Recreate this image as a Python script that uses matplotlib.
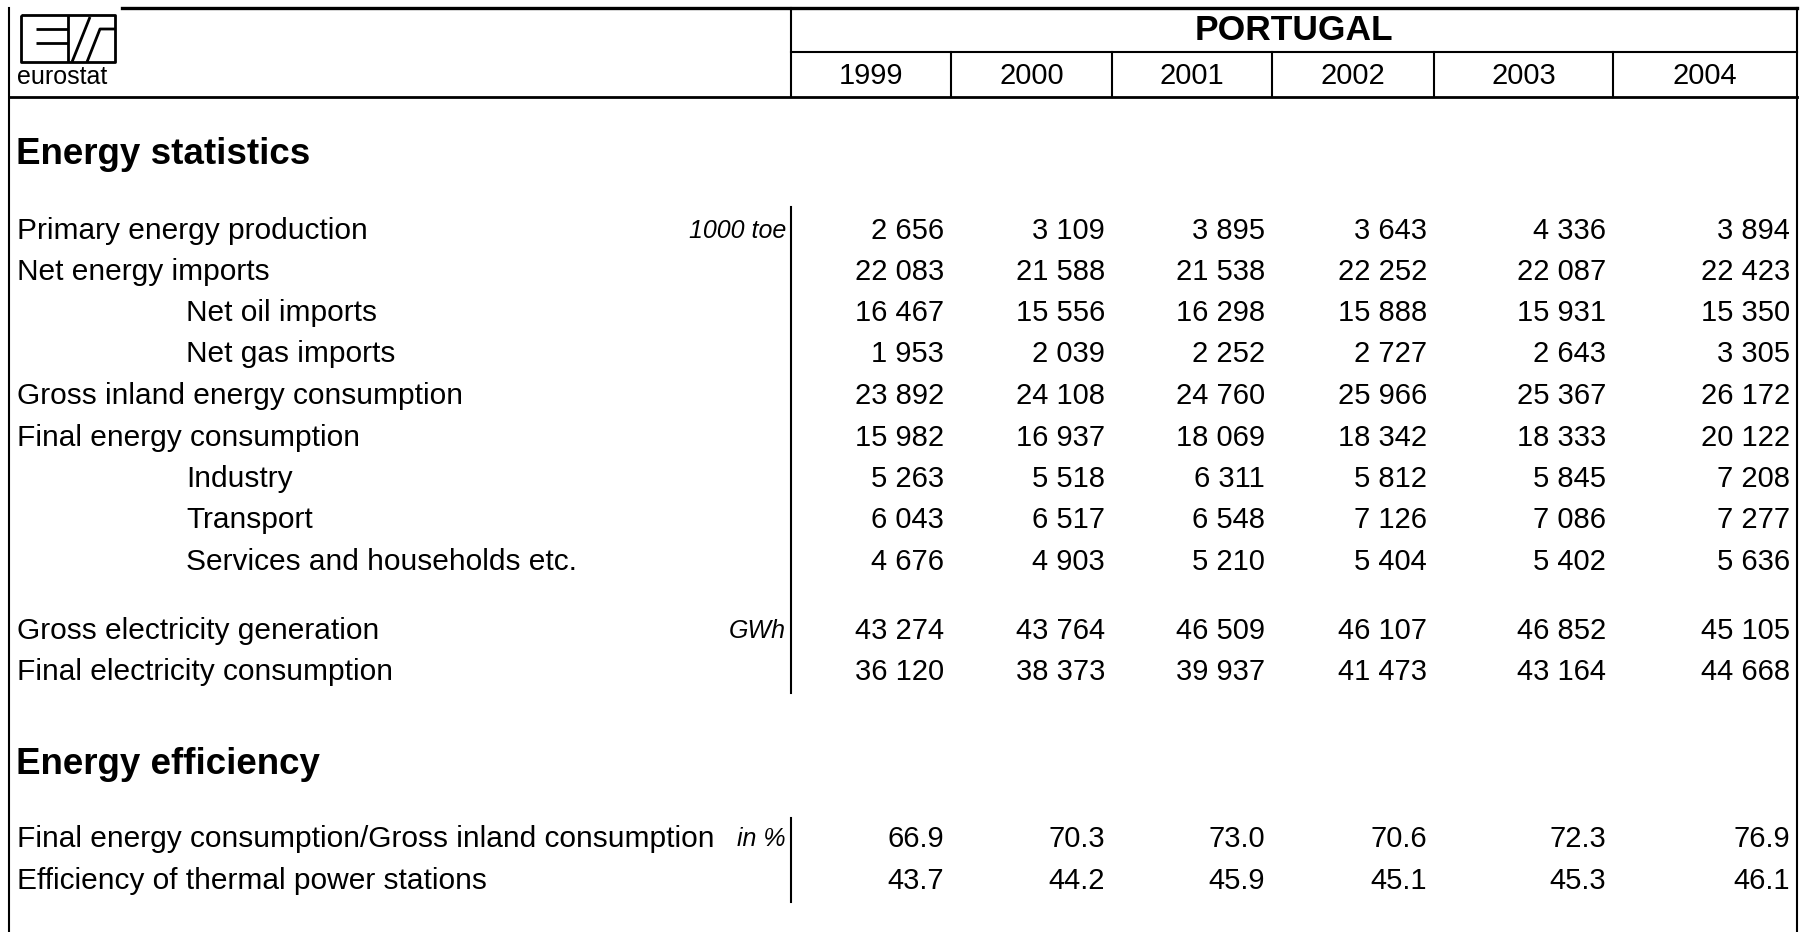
import matplotlib
matplotlib.use("Agg")
import matplotlib.pyplot as plt

plt.rcParams["font.family"] = ["Liberation Sans", "DejaVu Sans"]

# %% data
country = "PORTUGAL"
years = ["1999", "2000", "2001", "2002", "2003", "2004"]

stat_labels = ["Primary energy production", "Net energy imports", "Net oil imports",
               "Net gas imports", "Gross inland energy consumption",
               "Final energy consumption", "Industry", "Transport",
               "Services and households etc."]
stat_indent = [0, 0, 1, 1, 0, 0, 1, 1, 1]
stat_units = ["1000 toe", "", "", "", "", "", "", "", ""]
stat_values = [
    [2656, 3109, 3895, 3643, 4336, 3894],
    [22083, 21588, 21538, 22252, 22087, 22423],
    [16467, 15556, 16298, 15888, 15931, 15350],
    [1953, 2039, 2252, 2727, 2643, 3305],
    [23892, 24108, 24760, 25966, 25367, 26172],
    [15982, 16937, 18069, 18342, 18333, 20122],
    [5263, 5518, 6311, 5812, 5845, 7208],
    [6043, 6517, 6548, 7126, 7086, 7277],
    [4676, 4903, 5210, 5404, 5402, 5636],
]

elec_labels = ["Gross electricity generation", "Final electricity consumption"]
elec_units = ["GWh", ""]
elec_values = [
    [43274, 43764, 46509, 46107, 46852, 45105],
    [36120, 38373, 39937, 41473, 43164, 44668],
]

eff_labels = ["Final energy consumption/Gross inland consumption",
              "Efficiency of thermal power stations"]
eff_units = ["in %", ""]
eff_values = [
    [66.9, 70.3, 73.0, 70.6, 72.3, 76.9],
    [43.7, 44.2, 45.9, 45.1, 45.3, 46.1],
]


def fmt_int(v):
    return f"{v:,}".replace(",", " ")


# %% layout (pixel coordinates)
W, H = 1802, 932
left, right = 9, 1797
div = 791
seps = [791, 951, 1112, 1272, 1434, 1613, 1797]
lw = 1.5
fs_lab = 21.5
fs_num = 21

fig = plt.figure(figsize=(W / 100, H / 100), dpi=100)
ax = fig.add_axes([0, 0, 1, 1])
ax.set_xlim(0, W)
ax.set_ylim(H, 0)
ax.axis("off")

# frame
ax.plot([122, right], [8, 8], color="black", lw=2.4)
ax.plot([left, left], [8, H], color="black", lw=lw)
ax.plot([right, right], [8, H], color="black", lw=lw)
ax.plot([div, div], [8, 97], color="black", lw=lw)
ax.plot([div, right], [52, 52], color="black", lw=lw)
ax.plot([left, right], [97, 97], color="black", lw=2.0)
for s in seps[1:-1]:
    ax.plot([s, s], [52, 97], color="black", lw=lw)

# eurostat logo
lk = dict(color="black", lw=2.0, solid_capstyle="butt")
ax.plot([21, 115, 115, 21, 21], [15, 15, 62, 62, 15], **lk)
ax.plot([36, 68], [29, 29], **lk)
ax.plot([36, 68], [43, 43], **lk)
ax.plot([68, 68], [15, 62], **lk)
ax.plot([72, 90], [62, 17], **lk)
ax.plot([87, 100, 115], [62, 29, 29], **lk)
ax.text(17, 77, "eurostat", fontsize=18, va="center", ha="left")

# header
ax.text((div + right) / 2, 31, country, fontsize=25.5, fontweight="bold",
        ha="center", va="center")
for i, y in enumerate(years):
    ax.text((seps[i] + seps[i + 1]) / 2, 76, y, fontsize=fs_num,
            ha="center", va="center")


def draw_rows(labels, units, values, ys, indent=None, decimals=False):
    for r, lab in enumerate(labels):
        x0 = 186 if indent and indent[r] else 17
        ax.text(x0, ys[r], lab, fontsize=fs_lab, ha="left", va="center")
        if units[r]:
            ax.text(786, ys[r], units[r], fontsize=18, style="italic",
                    ha="right", va="center")
        for c, v in enumerate(values[r]):
            txt = f"{v:.1f}" if decimals else fmt_int(v)
            ax.text(seps[c + 1] - 7, ys[r], txt, fontsize=fs_num,
                    ha="right", va="center")


ax.text(16, 155, "Energy statistics", fontsize=26.5, fontweight="bold",
        ha="left", va="center")
stat_y = [231, 272, 313, 354, 396, 438, 479, 520, 562]
draw_rows(stat_labels, stat_units, stat_values, stat_y, indent=stat_indent)
elec_y = [631, 672]
draw_rows(elec_labels, elec_units, elec_values, elec_y)
ax.plot([div, div], [207, 693], color="black", lw=lw)

ax.text(16, 764, "Energy efficiency", fontsize=26.5, fontweight="bold",
        ha="left", va="center")
eff_y = [839, 881]
draw_rows(eff_labels, eff_units, eff_values, eff_y, decimals=True)
ax.plot([div, div], [818, 902], color="black", lw=lw)

fig.savefig("out.png", dpi=100)
